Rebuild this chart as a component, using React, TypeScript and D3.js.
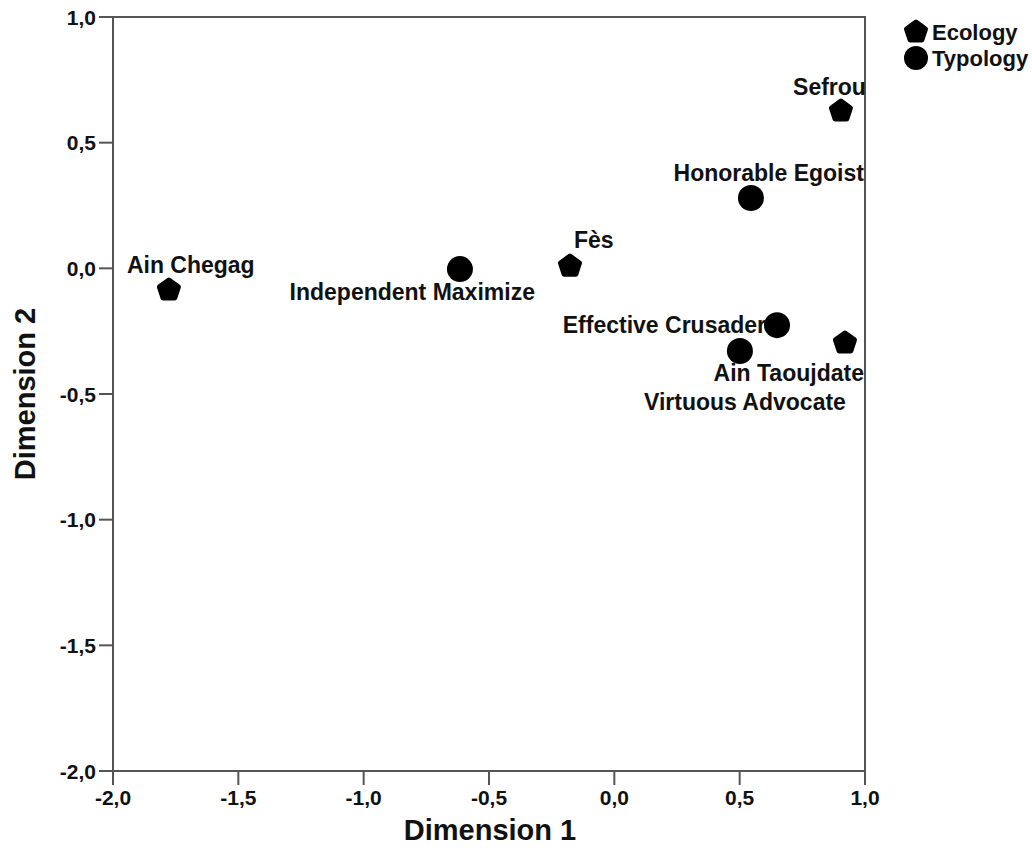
import React, { useEffect, useRef } from "react";
import * as d3 from "d3";

// object points (dimension 1, dimension 2)
const ecologyNames = ["Ain Chegag", "Fès", "Sefrou", "Ain Taoujdate"];
const ecologyDim1 = [-1.777, -0.177, 0.904, 0.92];
const ecologyDim2 = [-0.086, 0.009, 0.626, -0.297];

const typologyNames = ["Independent Maximize", "Honorable Egoist", "Effective Crusader", "Virtuous Advocate"];
const typologyDim1 = [-0.616, 0.545, 0.649, 0.501];
const typologyDim2 = [-0.003, 0.28, -0.226, -0.329];

const tickValues = [-2.0, -1.5, -1.0, -0.5, 0.0, 0.5, 1.0];
const legendLabels = ["Ecology", "Typology"];

const W = 1032;
const H = 859;
const FONT = "'Liberation Sans', Arial, sans-serif";

// label placement (dx, dy, anchor) next to each point
const labelPlace: Record<string, [number, number, string]> = {
  "Ain Chegag": [-42, -17, "start"],
  "Fès": [4, -18, "start"],
  "Sefrou": [25, -16, "end"],
  "Ain Taoujdate": [19, 38, "end"],
  "Independent Maximize": [75, 31, "end"],
  "Honorable Egoist": [113, -17, "end"],
  "Effective Crusader": [-11, 8, "end"],
  "Virtuous Advocate": [106, 59, "end"],
};

const pentagon = (r: number) => {
  const pts = d3.range(5).map((i) => {
    const a = -Math.PI / 2 + (i * 2 * Math.PI) / 5;
    return [r * Math.cos(a), r * Math.sin(a)];
  });
  return "M" + pts.map((p) => p.join(",")).join("L") + "Z";
};

const locale = d3.formatLocale({ decimal: ",", thousands: ".", grouping: [3], currency: ["", ""], minus: "-" });
const fmt = locale.format(".1f");

export default function App() {
  const ref = useRef<SVGSVGElement>(null);

  useEffect(() => {
    document.body.style.margin = "0";
    const svg = d3.select(ref.current);
    svg.selectAll("*").remove();

    const x = d3.scaleLinear().domain([-2, 1]).range([113, 865]);
    const y = d3.scaleLinear().domain([-2, 1]).range([771, 17]);

    // frame
    svg.append("rect")
      .attr("x", x(-2)).attr("y", y(1))
      .attr("width", x(1) - x(-2)).attr("height", y(-2) - y(1))
      .attr("fill", "none").attr("stroke", "#555").attr("stroke-width", 2);

    // y ticks
    const gy = svg.append("g");
    tickValues.forEach((t) => {
      gy.append("line").attr("x1", x(-2) - 14).attr("x2", x(-2)).attr("y1", y(t)).attr("y2", y(t))
        .attr("stroke", "#555").attr("stroke-width", 2);
      gy.append("text").attr("x", x(-2) - 17).attr("y", y(t)).attr("dy", "0.36em")
        .attr("text-anchor", "end").attr("font-family", FONT).attr("font-weight", "bold")
        .attr("font-size", 21).attr("fill", "#111").text(fmt(t));
    });

    // x ticks
    const gx = svg.append("g");
    tickValues.forEach((t) => {
      gx.append("line").attr("x1", x(t)).attr("x2", x(t)).attr("y1", y(-2)).attr("y2", y(-2) + 14)
        .attr("stroke", "#555").attr("stroke-width", 2);
      gx.append("text").attr("x", x(t)).attr("y", y(-2) + 34)
        .attr("text-anchor", "middle").attr("font-family", FONT).attr("font-weight", "bold")
        .attr("font-size", 21).attr("fill", "#111").text(fmt(t));
    });

    // axis titles
    svg.append("text").attr("x", 490).attr("y", 840)
      .attr("text-anchor", "middle").attr("font-family", FONT).attr("font-weight", "bold")
      .attr("font-size", 29).attr("fill", "#111").text("Dimension 1");
    svg.append("text").attr("transform", `translate(35,${(y(1) + y(-2)) / 2}) rotate(-90)`)
      .attr("text-anchor", "middle").attr("font-family", FONT).attr("font-weight", "bold")
      .attr("font-size", 29).attr("fill", "#111").text("Dimension 2");

    const labelFont = (sel: any, size = 23) =>
      sel.attr("font-family", FONT).attr("font-weight", "bold").attr("font-size", size).attr("fill", "#111");

    // ecology points
    ecologyNames.forEach((n, i) => {
      const px = x(ecologyDim1[i]);
      const py = y(ecologyDim2[i]);
      svg.append("path").attr("d", pentagon(10)).attr("transform", `translate(${px},${py})`)
        .attr("fill", "#000").attr("stroke", "#000").attr("stroke-width", 5).attr("stroke-linejoin", "round");
      const [dx, dy, anchor] = labelPlace[n];
      labelFont(svg.append("text").attr("x", px + dx).attr("y", py + dy).attr("text-anchor", anchor)).text(n);
    });

    // typology points
    typologyNames.forEach((n, i) => {
      const px = x(typologyDim1[i]);
      const py = y(typologyDim2[i]);
      svg.append("circle").attr("cx", px).attr("cy", py).attr("r", 13).attr("fill", "#000");
      const [dx, dy, anchor] = labelPlace[n];
      labelFont(svg.append("text").attr("x", px + dx).attr("y", py + dy).attr("text-anchor", anchor)).text(n);
    });

    // legend
    const lg = svg.append("g");
    legendLabels.forEach((l, i) => {
      const ly = 32 + i * 26;
      if (i === 0) {
        lg.append("path").attr("d", pentagon(10)).attr("transform", `translate(916,${ly})`)
          .attr("fill", "#000").attr("stroke", "#000").attr("stroke-width", 5).attr("stroke-linejoin", "round");
      } else {
        lg.append("circle").attr("cx", 916).attr("cy", ly).attr("r", 12).attr("fill", "#000");
      }
      labelFont(lg.append("text").attr("x", 932).attr("y", ly + 8), 22).text(l);
    });
  }, []);

  return <svg ref={ref} width={W} height={H} style={{ display: "block", background: "#fff" }} />;
}
